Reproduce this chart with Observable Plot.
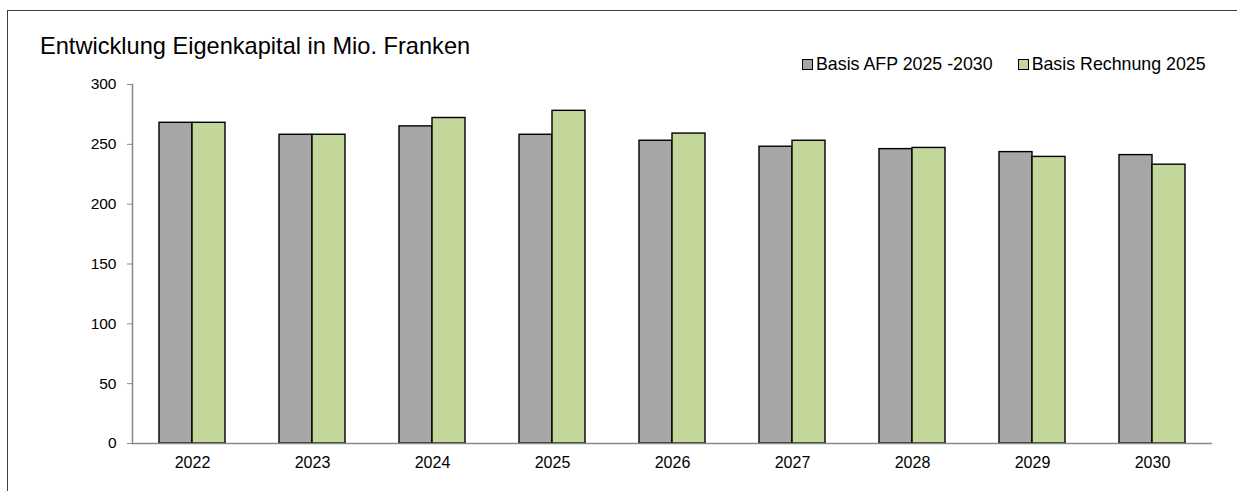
<!DOCTYPE html>
<html>
<head>
<meta charset="utf-8">
<script src="https://cdn.jsdelivr.net/npm/d3@7"></script>
<script src="https://cdn.jsdelivr.net/npm/@observablehq/plot@0.6"></script>
<style>
  html, body { margin: 0; padding: 0; background: #fff; }
  body { width: 1237px; height: 491px; position: relative; overflow: hidden; font-family: "Liberation Sans", Arial, sans-serif; }
  #frame { position: absolute; left: 7px; top: 10px; width: 1250px; height: 500px; border-left: 1.5px solid #404040; border-top: 1.5px solid #404040; }
  #title { position: absolute; left: 40px; top: 33px; font-size: 23.6px; line-height: 1.15; color: #000; white-space: nowrap; }
  #legend { position: absolute; left: 802px; top: 54px; font-size: 17.8px; line-height: 1.15; color: #000; display: flex; align-items: center; white-space: nowrap; }
  .item { display: flex; align-items: center; margin-right: 25px; }
  .sw { width: 9px; height: 9px; border: 1px solid #000; margin-right: 3px; margin-top: 1px; }
  #chart { position: absolute; left: 0; top: 74px; }
</style>
</head>
<body>
<div id="frame"></div>
<div id="title">Entwicklung Eigenkapital in Mio. Franken</div>
<div id="legend"></div>
<div id="chart"></div>
<script>
const years = ["2022", "2023", "2024", "2025", "2026", "2027", "2028", "2029", "2030"];
const seriesNames = ["Basis AFP 2025 -2030", "Basis Rechnung 2025"];
const afpValues = [268, 258, 265, 258, 253, 248, 246, 243.5, 241];
const rechnungValues = [268, 258, 272, 278, 259, 253, 247, 239.5, 233];
const yTicks = [0, 50, 100, 150, 200, 250, 300];
const seriesColors = ["#a6a6a6", "#c4d79b"];

const data = [];
years.forEach((y, i) => {
  data.push({year: y, series: seriesNames[0], value: afpValues[i]});
  data.push({year: y, series: seriesNames[1], value: rechnungValues[i]});
});

const legend = document.getElementById("legend");
seriesNames.forEach((name, i) => {
  const it = document.createElement("div");
  it.className = "item";
  const sw = document.createElement("div");
  sw.className = "sw";
  sw.style.background = seriesColors[i];
  const tx = document.createElement("span");
  tx.textContent = name;
  it.appendChild(sw);
  it.appendChild(tx);
  legend.appendChild(it);
});

const chart = Plot.plot({
  width: 1237,
  height: 417,
  marginLeft: 129,
  marginRight: 22,
  marginTop: 10,
  marginBottom: 48,
  style: {fontFamily: "Liberation Sans, Arial, sans-serif", fontSize: "16px", color: "#000", background: "transparent", overflow: "visible"},
  fx: {domain: years, padding: 0, label: null},
  x: {domain: seriesNames, paddingInner: 0, paddingOuter: 0.775, axis: null},
  y: {domain: [0, 300], label: null},
  color: {domain: seriesNames, range: seriesColors},
  marks: [
    Plot.axisFx({anchor: "bottom", tickSize: 0, tickPadding: 13, fontSize: 16, label: null}),
    Plot.axisY({ticks: yTicks, tickSize: 5, tickPadding: 11, stroke: "#888", fill: "#000", fontSize: 15.5, label: null}),
    Plot.barY(data, {fx: "year", x: "series", y: "value", fill: "series", stroke: "#000", strokeWidth: 1.4}),
    Plot.ruleY([0], {stroke: "#888", strokeWidth: 1.5}),
    Plot.frame({anchor: "left", facetAnchor: "left", stroke: "#888", strokeWidth: 1.5})
  ]
});
document.getElementById("chart").appendChild(chart);
</script>
</body>
</html>
